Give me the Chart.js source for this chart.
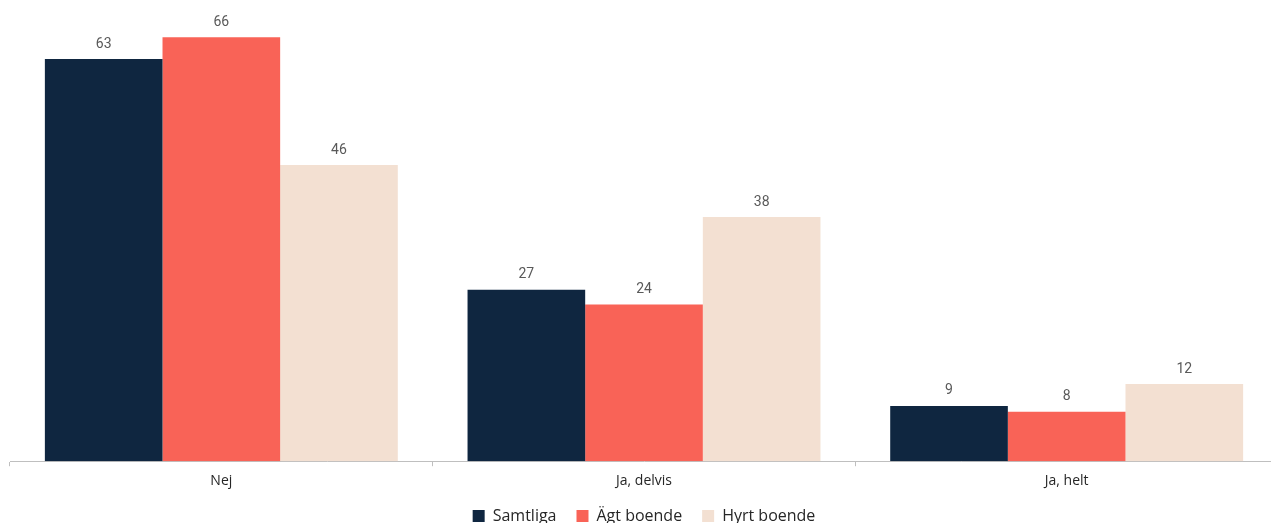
<!DOCTYPE html>
<html>
<head>
<meta charset="utf-8">
<script src="https://cdn.jsdelivr.net/npm/chart.js@4/dist/chart.umd.min.js"></script>
<style>
  html, body { margin: 0; padding: 0; background: #fff; overflow: hidden; }
  #wrap { position: relative; width: 1280px; height: 541px; }
</style>
</head>
<body>
<div id="wrap"><canvas id="chart"></canvas></div>
<script>
// Categories and series (labels shown rounded)
const categories = ['Nej', 'Ja, delvis', 'Ja, helt'];
const seriesNames = ['Samtliga', 'Ägt boende', 'Hyrt boende'];
const samtliga = [62.6, 26.7, 8.6];
const agtBoende = [66.0, 24.4, 7.7];
const hyrtBoende = [46.1, 38.0, 12.0];
const seriesColors = ['#0F2640', '#F96357', '#F3E0D2'];

// draws the rounded value above every bar
const valueLabels = {
  id: 'valueLabels',
  afterDatasetsDraw(chart) {
    const ctx = chart.ctx;
    ctx.save();
    ctx.font = '14px Roboto';
    ctx.fillStyle = '#595959';
    ctx.textAlign = 'center';
    ctx.textBaseline = 'middle';
    chart.data.datasets.forEach((ds, i) => {
      chart.getDatasetMeta(i).data.forEach((bar, j) => {
        ctx.fillText(String(Math.round(ds.data[j])), bar.x, bar.y - 15);
      });
    });
    ctx.restore();
  }
};

// pulls the legend a little closer to the axis labels
const legendNudge = {
  id: 'legendNudge',
  afterLayout(chart) {
    if (chart.legend) {
      chart.legend.top -= 7;
      chart.legend.bottom -= 7;
    }
  }
};

const allSeries = [samtliga, agtBoende, hyrtBoende];

new Chart(document.getElementById('chart'), {
  type: 'bar',
  data: {
    labels: categories,
    datasets: allSeries.map((vals, i) => ({
      label: seriesNames[i],
      data: vals,
      backgroundColor: seriesColors[i],
      borderWidth: 0,
      categoryPercentage: 0.835,
      barPercentage: 1.0
    }))
  },
  options: {
    responsive: true,
    maintainAspectRatio: false,
    animation: false,
    layout: { padding: { left: 10, right: 2, top: 0, bottom: 0 } },
    scales: {
      x: {
        grid: {
          drawOnChartArea: false,
          drawTicks: true,
          tickLength: 5,
          color: '#BFBFBF',
          offset: true
        },
        border: { color: '#BFBFBF', width: 1 },
        ticks: {
          color: '#262626',
          font: { family: 'Open Sans', size: 14 },
          padding: 6
        }
      },
      y: {
        display: false,
        min: 0,
        max: 71.8
      }
    },
    plugins: {
      legend: {
        position: 'bottom',
        labels: {
          color: '#262626',
          font: { family: 'Open Sans', size: 16 },
          boxWidth: 12,
          boxHeight: 12,
          padding: 20
        }
      },
      tooltip: { enabled: false }
    }
  },
  plugins: [valueLabels, legendNudge]
});
</script>
</body>
</html>
